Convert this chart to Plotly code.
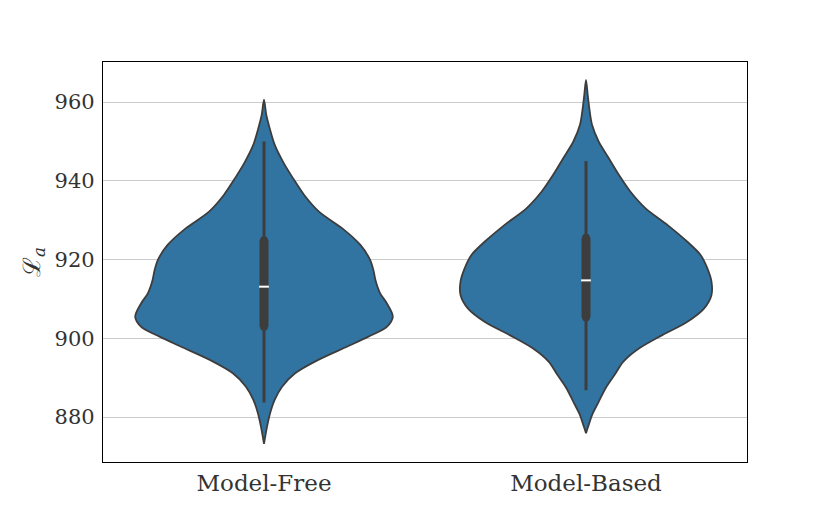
import plotly.graph_objects as go

# ---- data ----
categories = ["Model-Free", "Model-Based"]

# violin outline: values and relative density (kernel estimate)
mf_values = [960.6, 956.7, 953.3, 949.1, 944.8, 940.6, 936.4, 932.1, 927.9, 923.7,
             919.9, 917.3, 914.8, 911.4, 908.9, 905.5, 902.9, 900.4, 897.9, 894.5,
             891.1, 887.7, 884.3, 880.9, 877.5, 873.2]
mf_density = [0, 2.3, 5.7, 10.7, 19, 29, 40, 55, 78, 96,
              105.7, 109, 111, 115.7, 122.3, 128.3, 122.3, 104, 83, 54,
              31, 18, 10.5, 6, 3, 0]

mb_values = [965.6, 961.8, 958.4, 954.2, 949.9, 945.7, 941.5, 937.2, 933.0, 928.8,
             924.5, 921.1, 917.7, 914.4, 911.0, 907.6, 904.2, 900.8, 897.45, 894.0,
             890.7, 887.3, 883.9, 880.5, 878.0, 875.9]
mb_density = [0, 1.7, 3.3, 6, 12.7, 22.7, 32.7, 44.3, 59.3, 81,
              101, 114.3, 121, 125, 125, 117.7, 101, 76, 53, 37,
              28.5, 19.5, 12.7, 6, 2.7, 0]

# box statistics: lower whisker, q1, median, q3, upper whisker
mf_stats = [883.7, 902.9, 913.1, 924.9, 950.0]
mb_stats = [886.8, 905.3, 914.7, 925.5, 945.0]

tick_vals = [880, 900, 920, 940, 960]
y_range = [868.57, 970.16]

violins = [(mf_values, mf_density, mf_stats), (mb_values, mb_density, mb_stats)]

FILL = "#3274a1"
EDGE = "#3d3d3d"
TEXT = "#333333"
FONT = "DejaVu Serif"

gmax = max(max(mf_density), max(mb_density))
half_width = 0.4

fig = go.Figure()
for i, (vals, dens, st) in enumerate(violins):
    w = [d / gmax * half_width for d in dens]
    xs = [i - wi for wi in w] + [i + wi for wi in reversed(w)]
    ys = list(vals) + list(reversed(vals))
    fig.add_trace(go.Scatter(x=xs, y=ys, mode="lines", fill="toself",
                             fillcolor=FILL, line=dict(color=EDGE, width=1.8, shape="spline", smoothing=0.8),
                             hoverinfo="skip"))
    # whiskers
    fig.add_trace(go.Scatter(x=[i, i], y=[st[0], st[4]], mode="lines",
                             line=dict(color=EDGE, width=3), hoverinfo="skip"))
    # IQR box
    fig.add_trace(go.Scatter(x=[i, i], y=[st[1], st[3]], mode="lines+markers",
                             line=dict(color=EDGE, width=9),
                             marker=dict(symbol="circle", size=8, color=EDGE, line=dict(width=0)),
                             hoverinfo="skip"))
    # median
    fig.add_trace(go.Scatter(x=[i], y=[st[2]], mode="markers",
                             marker=dict(symbol="line-ew", size=7, line=dict(color="white", width=2)),
                             hoverinfo="skip"))

fig.update_layout(
    width=822, height=511,
    margin=dict(l=95, r=83, t=54, b=57),
    plot_bgcolor="white", paper_bgcolor="white",
    showlegend=False,
    font=dict(family=FONT, color=TEXT, size=21),
)
fig.update_xaxes(range=[-0.5, 1.5], tickvals=list(range(len(categories))), ticktext=categories,
                 showgrid=False, zeroline=False, showline=True, mirror=True,
                 linecolor="black", linewidth=1.25, ticks="", ticklen=0,
                 tickfont=dict(family=FONT, size=23, color=TEXT))
fig.update_yaxes(range=y_range, tickvals=tick_vals, ticktext=[str(t) for t in tick_vals],
                 showgrid=True, gridcolor="#cccccc", gridwidth=1, zeroline=False,
                 showline=True, mirror=True, linecolor="black", linewidth=1.25,
                 ticks="outside", ticklen=3, tickcolor="rgba(0,0,0,0)",
                 tickfont=dict(family=FONT, size=21, color=TEXT))
fig.add_annotation(text="ℒ<sub><i>a</i></sub>", xref="paper", yref="paper",
                   x=-(95 - 25) / 644, y=0.5, xanchor="center", yanchor="middle",
                   textangle=-90, showarrow=False,
                   font=dict(family=FONT, size=24, color=TEXT))

fig.write_html("out.html")
